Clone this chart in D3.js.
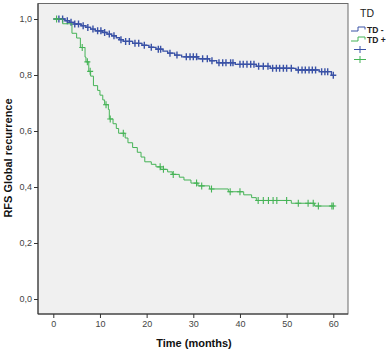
<!DOCTYPE html>
<html>
<head>
<meta charset="utf-8">
<script src="https://cdn.jsdelivr.net/npm/d3@7"></script>
<style>
  body { margin: 0; background: #fff; }
  svg { display: block; font-family: Arial, "Liberation Sans", sans-serif; }
</style>
</head>
<body>
<svg id="chart" width="386" height="353"></svg>
<script>
// Kaplan-Meier steps: [time in months, survival after the drop]
const tdNegSteps = [
  [2.5, 0.994], [3.5, 0.988], [4.5, 0.982], [6.0, 0.976], [7.0, 0.970],
  [8.0, 0.964], [9.0, 0.958], [10.5, 0.952], [11.5, 0.946], [12.5, 0.940],
  [13.5, 0.933], [14.2, 0.926], [15.0, 0.920], [17.0, 0.913], [19.0, 0.906],
  [20.5, 0.899], [22.0, 0.892], [23.5, 0.885], [24.5, 0.878], [26.0, 0.871],
  [27.5, 0.865], [31.0, 0.858], [33.5, 0.851], [35.0, 0.844], [39.0, 0.838],
  [43.5, 0.831], [46.5, 0.824], [52.0, 0.818], [57.0, 0.812], [59.6, 0.799]
];
const tdPosSteps = [
  [2.0, 0.983], [4.0, 0.949], [5.0, 0.932], [5.8, 0.898], [6.8, 0.864],
  [7.0, 0.847], [7.6, 0.813], [8.0, 0.796], [8.6, 0.762], [9.5, 0.745],
  [10.0, 0.728], [10.6, 0.711], [11.0, 0.694], [11.8, 0.677], [12.0, 0.643],
  [12.8, 0.626], [13.5, 0.609], [14.0, 0.592], [15.4, 0.575], [16.0, 0.558],
  [17.0, 0.541], [18.0, 0.524], [18.8, 0.507], [19.6, 0.490], [21.0, 0.481],
  [22.0, 0.472], [23.0, 0.463], [24.5, 0.454], [25.5, 0.445], [27.0, 0.435],
  [28.0, 0.425], [29.5, 0.414], [31.0, 0.404], [33.5, 0.393], [37.5, 0.383],
  [40.8, 0.372], [42.5, 0.362], [43.5, 0.352], [51.0, 0.342], [56.0, 0.332]
];
// censored observations (months)
const tdNegCensor = [
  1.2, 2, 3, 3.8, 4.6, 5.4, 6.4, 7.4, 8.5, 9.5, 10.2, 11, 12, 13, 14.5, 15.5,
  16.3, 17.5, 18.3, 19.5, 21, 22.5, 23, 25, 26.5, 28.5, 29.3, 30, 30.7, 32,
  33, 34, 35.5, 36.3, 37, 38, 38.5, 40, 40.7, 41.5, 42.3, 43, 44, 45, 46, 47,
  47.8, 48.5, 49.3, 50, 51, 52.5, 53.3, 54, 54.8, 55.5, 56.2, 57.5, 58.2, 58.8, 60
];
const tdPosCensor = [
  0.7, 6.2, 7.3, 7.9, 11.3, 12.2, 15.0, 22.9, 23.6, 25.7, 30.7, 31.8, 33.9,
  37.9, 40, 43.9, 45, 46.1, 47.1, 47.9, 50, 52.5, 54.6, 55.7, 56.8, 59.7, 60
];
const groups = ["TD -", "TD +"];
const colors = ["#3a52a6", "#45b356"];
const xTicks = [0, 10, 20, 30, 40, 50, 60];
const yTicks = [0, 0.2, 0.4, 0.6, 0.8, 1.0];

const svg = d3.select("#chart");

// plot frame
const frame = {left: 38, top: 3.5, right: 348, bottom: 314};
const x = d3.scaleLinear().domain([0, 60]).range([53.3, 333.3]);
const y = d3.scaleLinear().domain([0, 1]).range([299, 19]);

svg.append("rect")
  .attr("x", frame.left).attr("y", frame.top)
  .attr("width", frame.right - frame.left).attr("height", frame.bottom - frame.top)
  .attr("fill", "#f0f0f0").attr("stroke", "#6b6b6b").attr("stroke-width", 1);

// axes
const fmt = d => d3.format(".1f")(d).replace(".", ",");
const yAxis = svg.append("g")
  .attr("transform", `translate(${frame.left},0)`)
  .call(d3.axisLeft(y).tickValues(yTicks).tickFormat(fmt).tickSize(4).tickPadding(2));
const xAxis = svg.append("g")
  .attr("transform", `translate(0,${frame.bottom})`)
  .call(d3.axisBottom(x).tickValues(xTicks).tickSize(4).tickPadding(3));
[xAxis, yAxis].forEach(a => {
  a.select(".domain").remove();
  a.selectAll("line").attr("stroke", "#333");
  a.selectAll("text").attr("fill", "#444").attr("font-size", 9)
    .attr("font-family", "Arial, 'Liberation Sans', sans-serif");
});
// left & bottom axis lines a bit darker
svg.append("line").attr("x1", frame.left).attr("x2", frame.left)
  .attr("y1", frame.top).attr("y2", frame.bottom).attr("stroke", "#333");
svg.append("line").attr("x1", frame.left).attr("x2", frame.right)
  .attr("y1", frame.bottom).attr("y2", frame.bottom).attr("stroke", "#333");

// axis titles
svg.append("text")
  .attr("x", 194).attr("y", 347)
  .attr("text-anchor", "middle").attr("font-size", 11).attr("font-weight", "bold")
  .attr("fill", "#111").text("Time (months)");
svg.append("text")
  .attr("transform", "translate(12,158) rotate(-90)")
  .attr("text-anchor", "middle").attr("font-size", 11).attr("font-weight", "bold")
  .attr("fill", "#111").text("RFS Global recurrence");

// curves
const line = d3.line().x(d => x(d[0])).y(d => y(d[1])).curve(d3.curveStepAfter);
function survAt(steps, t) {
  let s = 1;
  for (const [tt, v] of steps) { if (tt <= t) s = v; }
  return s;
}
const series = [
  {steps: tdNegSteps, censor: tdNegCensor, w: 1.3},
  {steps: tdPosSteps, censor: tdPosCensor, w: 1}
];
series.forEach((s, i) => {
  const pts = [[0, 1], ...s.steps, [60, s.steps[s.steps.length - 1][1]]];
  svg.append("path").datum(pts)
    .attr("d", line).attr("fill", "none")
    .attr("stroke", colors[i]).attr("stroke-width", s.w);
  const g = svg.append("g").attr("stroke", colors[i]).attr("stroke-width", s.w + 0.1);
  g.selectAll("path.mark").data(s.censor).enter().append("path")
    .attr("class", "mark")
    .attr("d", t => {
      const cx = x(t), cy = y(survAt(s.steps, t));
      return `M${cx - 3},${cy}H${cx + 3}M${cx},${cy - 3.5}V${cy + 3.5}`;
    });
});

// legend
const leg = svg.append("g");
leg.append("text").attr("x", 367).attr("y", 17).attr("text-anchor", "middle")
  .attr("font-size", 10.5).attr("fill", "#222").text("TD");
groups.forEach((name, i) => {
  const yy = 31 + i * 10;
  leg.append("path")
    .attr("d", `M351,${yy}H358V${yy - 4}H365V${yy - 1.5}`)
    .attr("fill", "none").attr("stroke", colors[i]).attr("stroke-width", 1);
  leg.append("text").attr("x", 367).attr("y", yy + 1.5)
    .attr("font-size", 8.5).attr("font-weight", "bold").attr("fill", "#222").text(name);
  const cy = 49.5 + i * 10;
  leg.append("path")
    .attr("d", `M354,${cy}H366M360,${cy - 3.5}V${cy + 3.5}`)
    .attr("stroke", colors[i]).attr("stroke-width", 1);
});
</script>
</body>
</html>
